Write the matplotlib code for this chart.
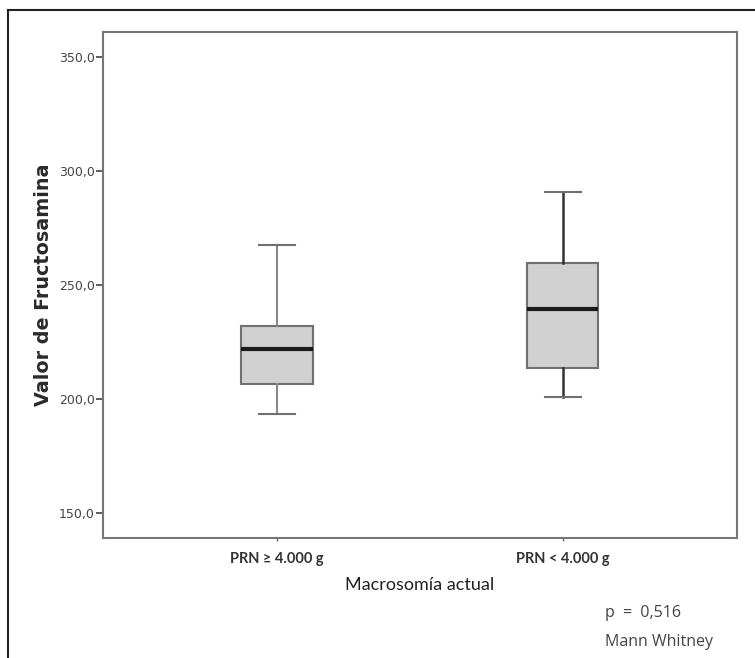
"""
Boxplot of fructosamine value by current macrosomia group
"""

import matplotlib
matplotlib.use('Agg')
import matplotlib.pyplot as plt
from matplotlib.lines import Line2D

# Data
groups = ['PRN \u2265 4.000 g', 'PRN < 4.000 g']
whislo = [193.4, 201.0]
q1 = [206.6, 213.4]
med = [221.9, 239.5]
q3 = [232.2, 259.6]
whishi = [267.5, 290.6]
yticks = [150, 200, 250, 300, 350]
ytick_labels = ['150,0', '200,0', '250,0', '300,0', '350,0']

fig = plt.figure(figsize=(7.55, 6.58), dpi=100)
ax = fig.add_axes([0.1364, 0.1824, 0.8397, 0.769])

# Build the box stats
stats = []
for i in range(len(groups)):
    stats.append({'label': groups[i], 'whislo': whislo[i], 'q1': q1[i],
                  'med': med[i], 'q3': q3[i], 'whishi': whishi[i], 'fliers': []})

bp = ax.bxp(stats, positions=[1, 2], widths=0.25, patch_artist=True,
            showfliers=False,
            boxprops=dict(facecolor='#d0d0d0', edgecolor='#707070', linewidth=1.5),
            medianprops=dict(color='#1a1a1a', linewidth=3),
            capprops=dict(color='#707070', linewidth=1.5),
            capwidths=0.125)

# whiskers: first group lighter, second darker
for w in bp['whiskers'][:2]:
    w.set_color('#888888')
    w.set_linewidth(1.5)
for w in bp['whiskers'][2:]:
    w.set_color('#333333')
    w.set_linewidth(1.8)

ax.set_xlim(0.39, 2.61)
ax.set_ylim(139, 361)

ax.set_yticks(yticks)
ax.set_yticklabels(ytick_labels, fontsize=9, color='#444444', family='DejaVu Sans')
ax.tick_params(axis='y', length=5, width=1.2, color='#444444', pad=1)
ax.tick_params(axis='x', length=2, width=1, color='#666666', pad=8)
ax.set_xticks([1, 2])
ax.set_xticklabels(groups, fontsize=10.5, fontweight='bold', color='#333333', family='Lato')

for s in ax.spines.values():
    s.set_color('#777777')
    s.set_linewidth(1.5)

ax.set_ylabel('Valor de Fructosamina', fontsize=13.8, fontweight='bold',
              color='#2a2a2a', labelpad=4)
ax.set_xlabel('Macrosom\u00eda actual', fontsize=13, color='#222222',
              family='Lato', labelpad=8)

# p-value note
fig.text(0.801, 1 - 613 / 658, 'p  =  0,516', fontsize=11.5, color='#444444',
         family='Open Sans', va='center')
fig.text(0.801, 1 - 642 / 658, 'Mann Whitney', fontsize=11.5, color='#444444',
         family='Open Sans', va='center')

# outer frame lines (top and left only)
fig.add_artist(Line2D([8 / 755, 1], [1 - 10 / 658, 1 - 10 / 658],
                      color='#222222', linewidth=1.5, transform=fig.transFigure))
fig.add_artist(Line2D([8 / 755, 8 / 755], [0, 1 - 10 / 658],
                      color='#222222', linewidth=1.5, transform=fig.transFigure))

fig.savefig('out.png', dpi=100)
